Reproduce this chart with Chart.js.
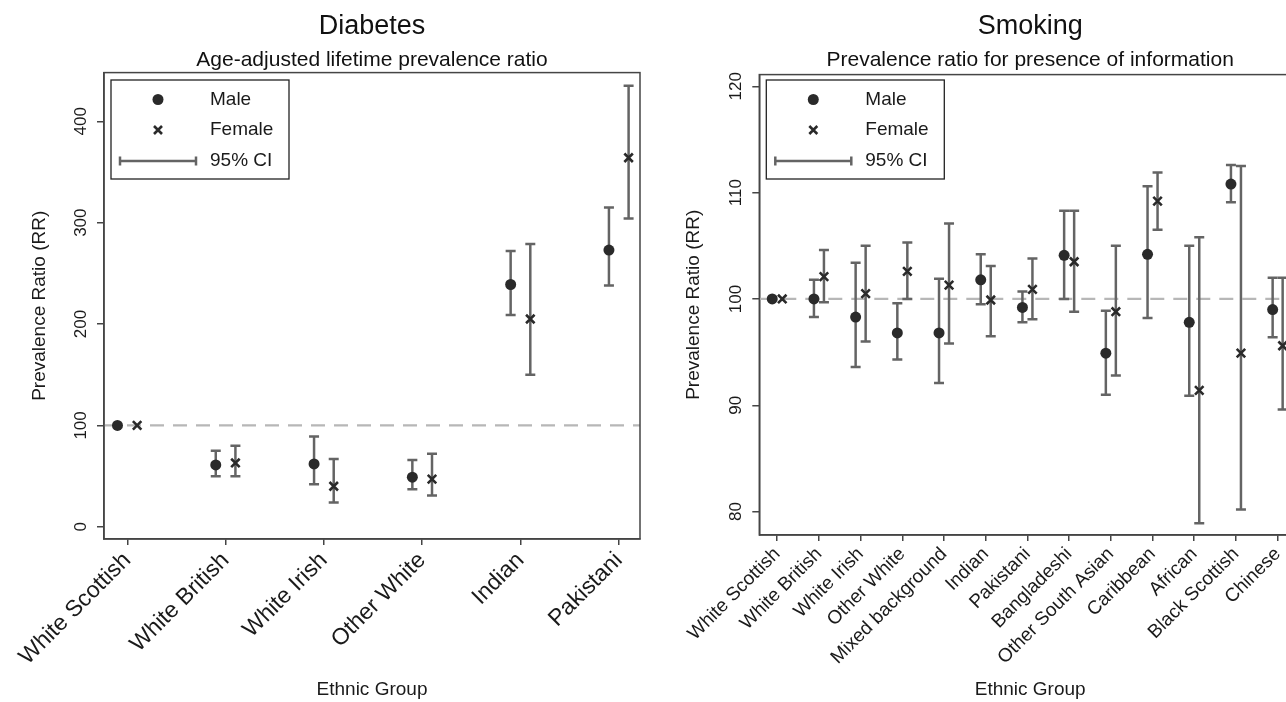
<!DOCTYPE html>
<html lang="en">
<head>
<meta charset="utf-8" />
<title>Diabetes and smoking prevalence ratios by ethnic group</title>
<script src="https://cdn.jsdelivr.net/npm/chart.js@4.4.1/dist/chart.umd.min.js"></script>
<style>
  html, body { margin: 0; padding: 0; background: #fff; overflow: hidden; }
  #wrap { position: relative; width: 1286px; height: 702px; overflow: hidden; }
  canvas { position: absolute; top: 0; }
  #diabetes { left: 0; }
  #smoking { left: 656px; }
</style>
</head>
<body>
<div id="wrap">
  <canvas id="diabetes" width="656" height="702"></canvas>
  <canvas id="smoking" width="660" height="702"></canvas>
</div>
<script>
// ---- diabetes: age-adjusted lifetime prevalence ratio ----
const dmGroups = ['White Scottish', 'White British', 'White Irish', 'Other White', 'Indian', 'Pakistani'];
const dmMale     = [100, 61, 62, 49, 239, 273];
const dmMaleLo   = [null, 50, 42, 37, 209, 238];
const dmMaleHi   = [null, 75, 89, 66, 272, 315];
const dmFemale   = [100, 63, 40, 47, 205, 364];
const dmFemaleLo = [null, 50, 24, 31, 150, 304];
const dmFemaleHi = [null, 80, 67, 72, 279, 435];
const dmTicks = [0, 100, 200, 300, 400];

// ---- smoking: prevalence ratio for presence of information ----
const smGroups = ['White Scottish', 'White British', 'White Irish', 'Other White', 'Mixed background',
  'Indian', 'Pakistani', 'Bangladeshi', 'Other South Asian', 'Caribbean', 'African', 'Black Scottish', 'Chinese'];
const smMale     = [100, 100, 98.3, 96.8, 96.8, 101.8, 99.2, 104.1, 94.9, 104.2, 97.8, 110.8, 99.0];
const smMaleLo   = [null, 98.3, 93.6, 94.3, 92.1, 99.5, 97.8, 100.0, 91.0, 98.2, 90.9, 109.1, 96.4];
const smMaleHi   = [null, 101.8, 103.4, 99.6, 101.9, 104.2, 100.7, 108.3, 98.9, 110.6, 105.0, 112.6, 102.0];
const smFemale   = [100, 102.1, 100.5, 102.6, 101.3, 99.9, 100.9, 103.5, 98.8, 109.2, 91.4, 94.9, 95.6];
const smFemaleLo = [null, 99.7, 96.0, 100.0, 95.8, 96.5, 98.1, 98.8, 92.8, 106.5, 78.9, 80.2, 89.6];
const smFemaleHi = [null, 104.6, 105.0, 105.3, 107.1, 103.1, 103.8, 108.3, 105.0, 111.9, 105.8, 112.5, 102.0];
const smTicks = [80, 90, 100, 110, 120];

const FONT = "'Liberation Sans', Arial, sans-serif";
const FRAME = '#454545';
const BAR = '#646464';
const MARK = '#2a2a2a';

Chart.defaults.font.family = FONT;
Chart.defaults.color = '#1a1a1a';
Chart.defaults.animation = false;

// put each group's points either side of its tick
function pts(vals, off) {
  return vals.map((v, i) => ({ x: i + off, y: v }));
}

// reference line, CI whiskers, frame and the boxed key
const ciPlugin = {
  id: 'ciPlugin',
  beforeDatasetsDraw(chart, args, o) {
    const { ctx, chartArea: a, scales: { x, y } } = chart;
    ctx.save();
    ctx.beginPath();
    ctx.rect(a.left, a.top, a.right - a.left, a.bottom - a.top);
    ctx.clip();
    const y0 = y.getPixelForValue(100);
    ctx.strokeStyle = '#b7b7b7';
    ctx.lineWidth = 2.3;
    ctx.setLineDash(o.dash);
    ctx.beginPath();
    ctx.moveTo(a.left, y0);
    ctx.lineTo(a.right, y0);
    ctx.stroke();
    ctx.setLineDash([]);
    ctx.strokeStyle = BAR;
    ctx.lineWidth = 2.5;
    chart.data.datasets.forEach(ds => {
      ds.data.forEach((p, i) => {
        if (ds.lo[i] == null) return;
        const px = x.getPixelForValue(p.x);
        const pl = y.getPixelForValue(ds.lo[i]);
        const ph = y.getPixelForValue(ds.hi[i]);
        ctx.beginPath();
        ctx.moveTo(px, pl); ctx.lineTo(px, ph);
        ctx.moveTo(px - o.cap, pl); ctx.lineTo(px + o.cap, pl);
        ctx.moveTo(px - o.cap, ph); ctx.lineTo(px + o.cap, ph);
        ctx.stroke();
      });
    });
    ctx.restore();
  },
  afterDraw(chart, args, o) {
    const { ctx, chartArea: a } = chart;
    ctx.save();
    ctx.strokeStyle = FRAME;
    ctx.lineWidth = 1.5;
    ctx.strokeRect(a.left, a.top, a.right - a.left, a.bottom - a.top);

    // key
    const bx = a.left + 7, by = 80, bw = 178, bh = 99;
    ctx.strokeStyle = '#222';
    ctx.lineWidth = 1.3;
    ctx.strokeRect(bx, by, bw, bh);
    const mx = bx + 47, tx = bx + 99;
    const rows = [by + 19.5, by + 50, by + 81];
    ctx.fillStyle = MARK;
    ctx.beginPath();
    ctx.arc(mx, rows[0], 5.5, 0, Math.PI * 2);
    ctx.fill();
    ctx.strokeStyle = MARK;
    ctx.lineWidth = 2.6;
    ctx.beginPath();
    ctx.moveTo(mx - 4, rows[1] - 4); ctx.lineTo(mx + 4, rows[1] + 4);
    ctx.moveTo(mx - 4, rows[1] + 4); ctx.lineTo(mx + 4, rows[1] - 4);
    ctx.stroke();
    ctx.strokeStyle = BAR;
    ctx.lineWidth = 2.5;
    ctx.beginPath();
    ctx.moveTo(bx + 9, rows[2]); ctx.lineTo(bx + 85, rows[2]);
    ctx.moveTo(bx + 9, rows[2] - 4.5); ctx.lineTo(bx + 9, rows[2] + 4.5);
    ctx.moveTo(bx + 85, rows[2] - 4.5); ctx.lineTo(bx + 85, rows[2] + 4.5);
    ctx.stroke();
    ctx.fillStyle = '#1a1a1a';
    ctx.font = '19px ' + FONT;
    ctx.textBaseline = 'middle';
    ctx.textAlign = 'left';
    ctx.fillText('Male', tx, rows[0]);
    ctx.fillText('Female', tx, rows[1]);
    ctx.fillText('95% CI', tx, rows[2]);
    ctx.restore();
  }
};

function datasets(male, maleLo, maleHi, female, femaleLo, femaleHi, off) {
  return [
    {
      label: 'Male', data: pts(male, -off), lo: maleLo, hi: maleHi,
      pointStyle: 'circle', pointRadius: 5.5, pointHoverRadius: 5.5,
      backgroundColor: MARK, borderColor: MARK, borderWidth: 0
    },
    {
      label: 'Female', data: pts(female, off), lo: femaleLo, hi: femaleHi,
      pointStyle: 'crossRot', pointRadius: 6, pointHoverRadius: 6,
      backgroundColor: MARK, borderColor: MARK, borderWidth: 2.6
    }
  ];
}

function makeChart(id, cfg) {
  return new Chart(document.getElementById(id), {
    type: 'scatter',
    data: { datasets: datasets(...cfg.series, cfg.off) },
    plugins: [ciPlugin],
    options: {
      responsive: false,
      events: [],
      layout: { padding: cfg.padding },
      plugins: {
        legend: { display: false },
        tooltip: { enabled: false },
        title: {
          display: true, text: cfg.title, fullSize: false,
          font: { size: 27, weight: 'normal' }, color: '#111',
          padding: { top: 10, bottom: 5 }
        },
        subtitle: {
          display: true, text: cfg.subtitle, fullSize: false,
          font: { size: 21 }, color: '#111',
          padding: { top: 0, bottom: cfg.subGap }
        },
        ciPlugin: { dash: cfg.dash, cap: 5 }
      },
      scales: {
        x: {
          type: 'linear', min: cfg.xMin, max: cfg.xMax,
          afterBuildTicks: s => { s.ticks = cfg.groups.map((g, i) => ({ value: i })); },
          afterFit: s => { s.height = cfg.xHeight; s.paddingLeft = 0; s.paddingRight = 0; },
          grid: { display: true, drawOnChartArea: false, drawTicks: true, tickLength: 6, color: FRAME, lineWidth: 1.5 },
          border: { display: true, color: FRAME, width: 1.5 },
          ticks: {
            autoSkip: false, minRotation: 45, maxRotation: 45, padding: 2,
            font: { size: cfg.xFont }, color: '#1a1a1a',
            callback: v => cfg.groups[Math.round(v)]
          },
          title: {
            display: true, text: 'Ethnic Group', font: { size: 19 }, color: '#1a1a1a',
            padding: { top: 0, bottom: 1 }
          }
        },
        y: {
          type: 'linear', min: cfg.yMin, max: cfg.yMax,
          afterBuildTicks: s => { s.ticks = cfg.yTicks.map(v => ({ value: v })); },
          afterFit: s => { s.width = cfg.yWidth; s.paddingTop = 0; s.paddingBottom = 0; },
          grid: { display: true, drawOnChartArea: false, drawTicks: true, tickLength: 7, color: FRAME, lineWidth: 1.5 },
          border: { display: true, color: FRAME, width: 1.5 },
          ticks: {
            minRotation: 90, maxRotation: 90, crossAlign: 'center', padding: 2,
            font: { size: 17 }, color: '#1a1a1a'
          },
          title: {
            display: true, text: 'Prevalence Ratio (RR)', font: { size: 19 }, color: '#1a1a1a',
            padding: { top: cfg.yTitlePad, bottom: 0 }
          }
        }
      }
    }
  });
}

makeChart('diabetes', {
  title: 'Diabetes',
  subtitle: 'Age-adjusted lifetime prevalence ratio',
  groups: dmGroups,
  series: [dmMale, dmMaleLo, dmMaleHi, dmFemale, dmFemaleLo, dmFemaleHi],
  off: 0.1,
  xMin: -0.237, xMax: 5.216,
  yMin: -12, yMax: 448, yTicks: dmTicks,
  xFont: 23, xHeight: 163, yWidth: 104, yTitlePad: 28, subGap: 0,
  padding: { left: 0, right: 16, top: 0, bottom: 0 },
  dash: [14, 9]
});

makeChart('smoking', {
  title: 'Smoking',
  subtitle: 'Prevalence ratio for presence of information',
  groups: smGroups,
  series: [smMale, smMaleLo, smMaleHi, smFemale, smFemaleLo, smFemaleHi],
  off: 0.12,
  xMin: -0.43, xMax: 12.56,
  yMin: 77.8, yMax: 121.1, yTicks: smTicks,
  xFont: 19, xHeight: 167, yWidth: 103.3, yTitlePad: 26, subGap: 2,
  padding: { left: 0, right: 15, top: 0, bottom: 0 },
  dash: [14, 9]
});
</script>
</body>
</html>
